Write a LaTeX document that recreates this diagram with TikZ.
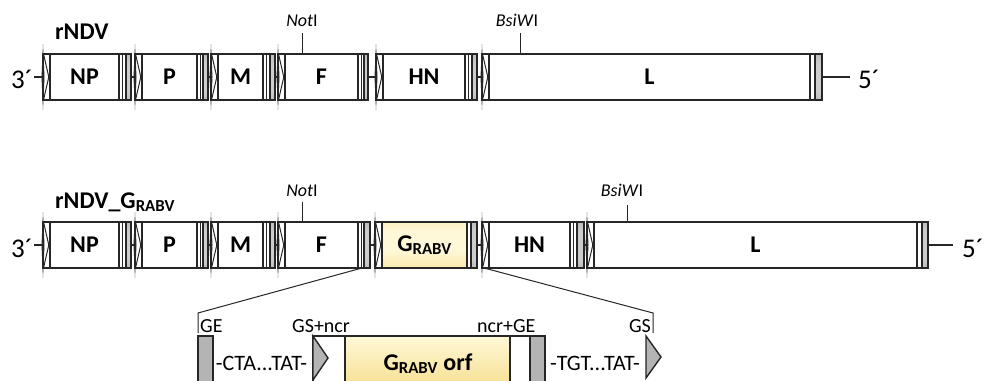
\documentclass[tikz,border=0pt]{standalone}
\usepackage{fontspec}
\setmainfont{Carlito}
\definecolor{edgec}{HTML}{262626}
\definecolor{yelA}{HTML}{F3D97E}
\definecolor{yelB}{HTML}{FFF8D8}
\definecolor{grayA}{HTML}{959595}
\definecolor{grayB}{HTML}{CDCDCD}
\definecolor{detgray}{HTML}{B4B4B4}
\newcommand\genefont{\fontsize{24}{28}\selectfont\bfseries}
\newcommand\sitefont{\fontsize{18}{20}\selectfont}
\newcommand\termfont{\fontsize{27}{30}\selectfont}
\newcommand\detfont{\fontsize{20}{22}\selectfont}
\newcommand\seqfont{\fontsize{22}{24}\selectfont}
% tube-like shading: grey rim at top and bottom, white core
\pgfdeclareverticalshading{tube}{100bp}{color(0bp)=(black!26); color(14bp)=(black!6); color(30bp)=(white); color(72bp)=(white); color(88bp)=(black!6); color(100bp)=(black!16)}
\pgfdeclareverticalshading{ytube}{100bp}{color(0bp)=(yelA); color(20bp)=(yelA!60!yelB); color(45bp)=(yelB); color(65bp)=(yelB); color(88bp)=(yelA!60!yelB); color(100bp)=(yelA)}
\pgfdeclareverticalshading{gtube}{100bp}{color(0bp)=(grayA); color(35bp)=(grayB); color(65bp)=(grayB); color(100bp)=(grayA)}
\tikzset{
  edge/.style={draw=edgec, line width=1.4pt},
  bodyshade/.style={shading=tube},
  yelshade/.style={shading=ytube},
  grayshade/.style={shading=gtube},
  detyel/.style={top color=yelB, bottom color=yelA},
  genebox/.style={edge, inner sep=0pt, minimum height=46pt, font=\genefont},
  tick/.style={draw=edgec, line width=0.9pt},
  zoomline/.style={draw=edgec, line width=1pt},
  link/.style={draw=edgec, line width=1.6pt},
}
% #1 name, #2 GS start, #3 body start, #4 body end, #5 GE split, #6 GE end, #7 label, #8 body style
\newcommand\gene[8]{%
  \draw[edge, bodyshade] (#2,\rowT) rectangle (#3,\rowB);
  \draw[edgec, line width=1pt] (#2+0.5,\rowT) -- (#3-1.2,\rowM) -- (#2+0.5,\rowB);
  \fill[edgec] (#2,\rowT-10) -- (#2+1.5,\rowM) -- (#2,\rowB+10) -- (#2-1.5,\rowM) -- cycle;
  \pgfmathsetmacro\genew{#4-#3}
  \node[genebox, #8, minimum width=\genew pt] (#1) at ({(#3+#4)/2},\rowM) {#7};
  \draw[edge, bodyshade] (#4,\rowT) rectangle (#5,\rowB);
  \pgfmathsetmacro\gewhite{#5-#4}
  \ifdim\gewhite pt>5.5pt
    \draw[edgec, line width=1pt] ({(#4+#5)/2},\rowT) -- ({(#4+#5)/2},\rowB);
  \fi
  \draw[edge, grayshade] (#5,\rowT) rectangle (#6,\rowB);
  \coordinate (#1-in) at (#2,\rowM);
  \coordinate (#1-out) at (#6,\rowM);
}
\begin{document}
\begin{tikzpicture}[x=1pt,y=-1pt]
\useasboundingbox (0,0) rectangle (984,380);
\fill[white] (0,0) rectangle (984,380);
\clip (0,0) rectangle (984,380);

% ---------- rNDV ----------
\def\rowT{54}\def\rowB{100}\def\rowM{77}
\node[font=\genefont, anchor=base west, inner sep=0pt] (name1) at (55,39) {rNDV};
\node[font=\termfont, anchor=base east, inner sep=0pt] (end3a) at (33,88) {3´};
\coordinate (lead1) at (34,\rowM);
\gene{np1}{43}{50}{119}{126}{131}{NP}{bodyshade}
\gene{p1}{135}{142}{197}{203}{208}{P}{bodyshade}
\gene{m1}{211}{218}{263}{270}{275}{M}{bodyshade}
\gene{f1}{278}{285}{358}{364}{368}{F}{bodyshade}
\gene{hn1}{376}{383}{465}{472}{477}{HN}{bodyshade}
\gene{l1}{482}{489}{810}{815}{822}{L}{bodyshade}
\coordinate (tail1) at (850,\rowM);
\node[font=\termfont, anchor=base west, inner sep=0pt] (end5a) at (858,88) {5´};
\draw[link] (lead1) -- (np1-in);
\draw[link] (np1-out) -- (p1-in);
\draw[link] (p1-out) -- (m1-in);
\draw[link] (m1-out) -- (f1-in);
\draw[link] (f1-out) -- (hn1-in);
\draw[link] (hn1-out) -- (l1-in);
\draw[link] (l1-out) -- (tail1);
\node[font=\sitefont, anchor=base, inner sep=0pt] (noti1) at (302,27) {\textit{Not}I};
\node[font=\sitefont, anchor=base, inner sep=0pt] (bsi1) at (517,27) {\textit{BsiW}I};
\coordinate (noti1t) at (302,33);
\coordinate (bsi1t) at (520,33);
\draw[tick] (noti1t) -- (302,\rowT);
\draw[tick] (bsi1t) -- (520,\rowT);

% ---------- rNDV_G(RABV) ----------
\def\rowT{222}\def\rowB{268}\def\rowM{245}
\node[font=\genefont, anchor=base west, inner sep=0pt] (name2) at (55,208) {rNDV\_G\textsubscript{RABV}};
\node[font=\termfont, anchor=base east, inner sep=0pt] (end3b) at (33,257) {3´};
\coordinate (lead2) at (34,\rowM);
\gene{np2}{43}{50}{119}{126}{131}{NP}{bodyshade}
\gene{p2}{135}{142}{197}{203}{208}{P}{bodyshade}
\gene{m2}{211}{218}{263}{270}{275}{M}{bodyshade}
\gene{f2}{278}{285}{358}{364}{370}{F}{bodyshade}
\gene{g2}{375}{382}{467}{471}{477}{G\textsubscript{RABV}}{yelshade}
\gene{hn2}{482}{489}{570}{577}{584}{HN}{bodyshade}
\gene{l2}{587}{594}{917}{922}{928}{L}{bodyshade}
\coordinate (tail2) at (953,\rowM);
\node[font=\termfont, anchor=base west, inner sep=0pt] (end5b) at (962,257) {5´};
\draw[link] (lead2) -- (np2-in);
\draw[link] (np2-out) -- (p2-in);
\draw[link] (p2-out) -- (m2-in);
\draw[link] (m2-out) -- (f2-in);
\draw[link] (f2-out) -- (g2-in);
\draw[link] (g2-out) -- (hn2-in);
\draw[link] (hn2-out) -- (l2-in);
\draw[link] (l2-out) -- (tail2);
\node[font=\sitefont, anchor=base, inner sep=0pt] (noti2) at (302,196) {\textit{Not}I};
\node[font=\sitefont, anchor=base, inner sep=0pt] (bsi2) at (622,196) {\textit{BsiW}I};
\coordinate (noti2t) at (302,202);
\coordinate (bsi2t) at (627,205);
\draw[tick] (noti2t) -- (302,\rowT);
\draw[tick] (bsi2t) -- (627,\rowT);

% ---------- enlarged insert ----------
\coordinate (zl0) at (362,\rowB);
\coordinate (zl1) at (198,313);
\coordinate (zl2) at (198,333);
\coordinate (zr0) at (484,\rowB);
\coordinate (zr1) at (653,313);
\coordinate (zr2) at (653,333);
\draw[zoomline] (zl0) -- (zl1) -- (zl2);
\draw[zoomline] (zr0) -- (zr1) -- (zr2);

\node[font=\detfont, anchor=base west, inner sep=0pt] (lge1) at (200,332) {GE};
\node[font=\detfont, anchor=base west, inner sep=0pt] (lgs1) at (292,332) {GS+ncr};
\node[font=\detfont, anchor=base west, inner sep=0pt] (lge2) at (477,332) {ncr+GE};
\node[font=\detfont, anchor=base east, inner sep=0pt] (lgs2) at (651,332) {GS};

\draw[edge, fill=detgray] (198,336) rectangle (213,400);
\node[font=\seqfont, anchor=base, inner sep=0pt] (seq1) at (261.5,370) {-CTA...TAT-};
\draw[edge, fill=white] (313,336) rectangle (345,400);
\draw[edge, fill=detgray] (313,336) -- (328,358) -- (313,380) -- cycle;
\draw[edge, detyel] (345,336) rectangle (510,400);
\node[font=\genefont, anchor=base, inner sep=0pt] (orf) at (428,370) {G\textsubscript{RABV} orf};
\draw[edge, fill=white] (510,336) rectangle (530,400);
\draw[edge, fill=detgray] (530,336) rectangle (545,400);
\node[font=\seqfont, anchor=base, inner sep=0pt] (seq2) at (595,370) {-TGT...TAT-};
\draw[edge, fill=detgray] (646,336) -- (661,357) -- (646,378) -- cycle;
\end{tikzpicture}
\end{document}
